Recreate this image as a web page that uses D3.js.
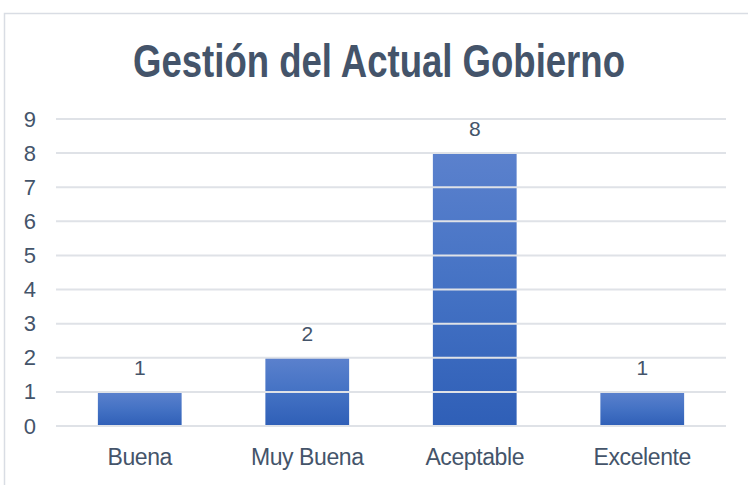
<!DOCTYPE html>
<html>
<head>
<meta charset="utf-8">
<script src="https://cdn.jsdelivr.net/npm/d3@7"></script>
<style>
  body { margin: 0; background: #fff; }
  svg { display: block; font-family: "Liberation Sans", Arial, sans-serif; }
</style>
</head>
<body>
<div id="chart"></div>
<script>
const categories = ["Buena", "Muy Buena", "Aceptable", "Excelente"];
const values = [1, 2, 8, 1];
const yTicks = [0, 1, 2, 3, 4, 5, 6, 7, 8, 9];
const title = "Gestión del Actual Gobierno";

const width = 748, height = 485;
const textColor = "#44546A";
const gridColor = "#dfe2e7";

const svg = d3.select("#chart").append("svg")
    .attr("width", width)
    .attr("height", height);

// gradiente de las barras
const grad = svg.append("defs").append("linearGradient")
    .attr("id", "barGrad")
    .attr("x1", 0).attr("y1", 0).attr("x2", 0).attr("y2", 1);
grad.append("stop").attr("offset", "0%").attr("stop-color", "#5b81cd");
grad.append("stop").attr("offset", "50%").attr("stop-color", "#4472c4");
grad.append("stop").attr("offset", "100%").attr("stop-color", "#2f5fb7");

// marco
svg.append("rect")
    .attr("x", 4.5).attr("y", 13.5)
    .attr("width", 800).attr("height", 500)
    .attr("fill", "none")
    .attr("stroke", "#d9dde4")
    .attr("stroke-width", 1.5);

// titulo condensado: se escala en horizontal para ocupar ~492px
const titleText = svg.append("text")
    .attr("text-anchor", "middle")
    .style("font-size", "46px")
    .style("font-weight", "bold")
    .style("fill", textColor)
    .text(title);
const sx = 492 / titleText.node().getComputedTextLength();
titleText.attr("transform", `translate(379,77) scale(${sx},1)`);

const x = d3.scaleBand()
    .domain(categories)
    .range([56, 726])
    .paddingInner(0.5)
    .paddingOuter(0.25);

const y = d3.scaleLinear()
    .domain([0, 9])
    .range([426, 119]);

svg.append("g")
    .selectAll("rect")
    .data(values)
    .join("rect")
    .attr("x", (d, i) => x(categories[i]))
    .attr("width", x.bandwidth())
    .attr("y", d => y(d))
    .attr("height", d => y(0) - y(d))
    .attr("fill", "url(#barGrad)");

// lineas de cuadricula encima de las barras
svg.append("g")
    .selectAll("line")
    .data(yTicks)
    .join("line")
    .attr("x1", 56).attr("x2", 726)
    .attr("y1", d => y(d)).attr("y2", d => y(d))
    .attr("stroke", gridColor)
    .attr("stroke-width", 2);

const yAxis = svg.append("g")
    .attr("transform", "translate(36,0)")
    .call(d3.axisLeft(y).tickValues(yTicks).tickSize(0).tickPadding(0));
yAxis.select(".domain").remove();
yAxis.selectAll("text")
    .style("font-size", "22px")
    .style("font-family", "Liberation Sans, Arial, sans-serif")
    .attr("fill", textColor);

const xAxis = svg.append("g")
    .attr("transform", "translate(0,426)")
    .call(d3.axisBottom(x).tickSize(0).tickPadding(0));
xAxis.select(".domain").remove();
xAxis.selectAll("text")
    .attr("dy", null)
    .attr("y", 39)
    .style("font-size", "23px")
    .style("font-family", "Liberation Sans, Arial, sans-serif")
    .style("letter-spacing", "-0.4px")
    .attr("fill", textColor);

svg.append("g")
    .selectAll("text")
    .data(values)
    .join("text")
    .attr("x", (d, i) => x(categories[i]) + x.bandwidth() / 2)
    .attr("y", d => y(d) - 17)
    .attr("text-anchor", "middle")
    .style("font-size", "21px")
    .style("fill", textColor)
    .text(d => d);
</script>
</body>
</html>
